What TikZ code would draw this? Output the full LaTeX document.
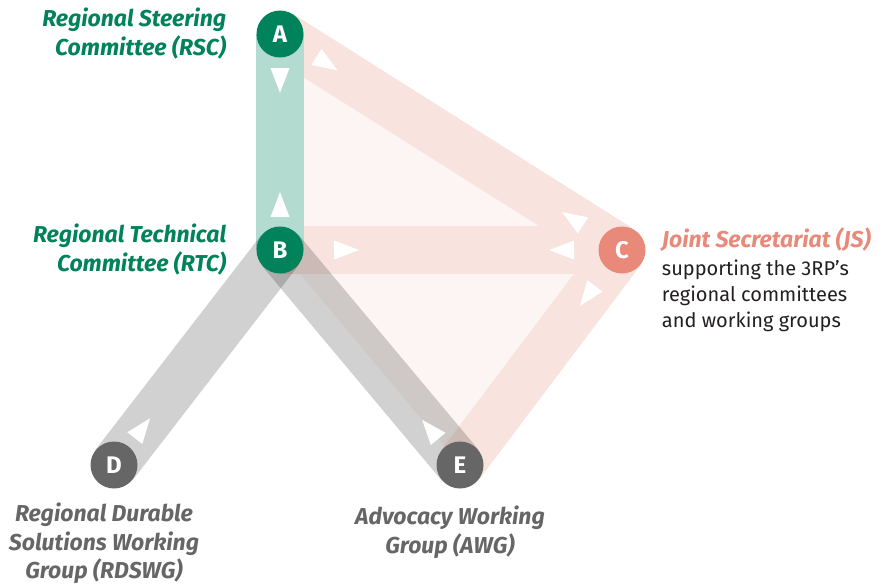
\documentclass[tikz,border=0pt]{standalone}
\usepackage{fontspec}
\setmainfont{Fira Sans}
\usepackage{tikz}
\usetikzlibrary{positioning,decorations.markings}

\definecolor{rgreen}{HTML}{00825A}
\definecolor{rgreenband}{HTML}{B3DBD0}
\definecolor{jsred}{HTML}{E8897A}
\definecolor{jsband}{HTML}{F8E3DE}
\definecolor{jsfill}{HTML}{FCF5F3}
\definecolor{wggray}{HTML}{666666}
\definecolor{bodytext}{HTML}{231F20}

\pgfdeclarelayer{background}
\pgfsetlayers{background,main}

\begin{document}
\begin{tikzpicture}[x=1pt,y=-1pt,node distance=216pt,
        dot/.style={circle,minimum size=47pt,inner sep=0pt,text=white,
          font=\fontsize{24}{24}\selectfont\bfseries},
        band/.style={line width=48pt},
        fwdtip/.style={postaction={decorate,decoration={markings,
          mark=at position #1 with {\fill[white] (0pt,-9.5pt) -- (25pt,0pt) -- (0pt,9.5pt) -- cycle;}}}},
        backtip/.style={postaction={decorate,decoration={markings,
          mark=at position -#1 with {\fill[white] (0pt,-9.5pt) -- (-25pt,0pt) -- (0pt,9.5pt) -- cycle;}}}},
        lbl/.style={inner sep=0pt,font=\fontsize{23}{29}\selectfont\bfseries\itshape}]

  \useasboundingbox (0,0) rectangle (888,586);

  \node[dot,fill=rgreen] (A) at (280,34) {A};
  \node[dot,fill=rgreen] (B) [below of=A] {B};
  \node[dot,fill=jsred] (C) [right of=B,node distance=342pt] {C};
  \node[dot,fill=wggray] (D) [below of=B,node distance=215pt,xshift=-166pt] {D};
  \node[dot,fill=wggray] (E) [below of=B,node distance=215pt,xshift=180pt] {E};

  \begin{pgfonlayer}{background}
    \fill[jsfill] (A.center) -- (C.center) -- (E.center) -- (B.center) -- cycle;
    % bands
    \path[band,draw=jsband]
      (A.center) edge (C.center)
      (B.center) edge (C.center)
      (C.center) edge (E.center);
    \path[band,draw=rgreenband] (A.center) edge (B.center);
    \path[band,draw=black,draw opacity=0.18]
      (D.center) edge (B.center)
      (E.center) edge (B.center);
    % white tips
    \path[draw=none]
      (A.center) edge[draw=none,fwdtip=34pt,backtip=33pt] (B.center)
      (A.center) edge[draw=none,fwdtip=43pt,backtip=46pt] (C.center)
      (B.center) edge[draw=none,fwdtip=54pt,backtip=48pt] (C.center)
      (C.center) edge[draw=none,fwdtip=45pt] (E.center)
      (D.center) edge[draw=none,fwdtip=34pt] (B.center)
      (E.center) edge[draw=none,fwdtip=34pt] (B.center);
  \end{pgfonlayer}

  \node[lbl,text=rgreen,align=right,anchor=east] (rsc) at ([xshift=-30pt]A.west)
    {Regional Steering\\Committee (RSC)};
  \node[lbl,text=rgreen,align=right,anchor=east] (rtc) at ([xshift=-30pt]B.west)
    {Regional Technical\\Committee (RTC)};
  \node[lbl,text=jsred,anchor=base west] (jstitle) at ([xshift=16pt,yshift=3pt]C.east)
    {Joint Secretariat (JS)};
  \node[inner sep=0pt,text=bodytext,font=\fontsize{20}{25.7}\selectfont,align=left,
    anchor=north west] (jsbody) at ([yshift=-13pt]jstitle.base west)
    {supporting the 3RP's\\regional committees\\and working groups};
  \node[lbl,text=wggray,align=center,anchor=north,font=\fontsize{23}{28.5}\selectfont\bfseries\itshape]
    (rdswg) at ([xshift=-10pt,yshift=-14pt]D.south)
    {Regional Durable\\Solutions Working\\Group (RDSWG)};
  \node[lbl,text=wggray,align=center,anchor=north] (awg) at ([xshift=-10pt,yshift=-17pt]E.south)
    {Advocacy Working\\Group (AWG)};

\end{tikzpicture}
\end{document}
